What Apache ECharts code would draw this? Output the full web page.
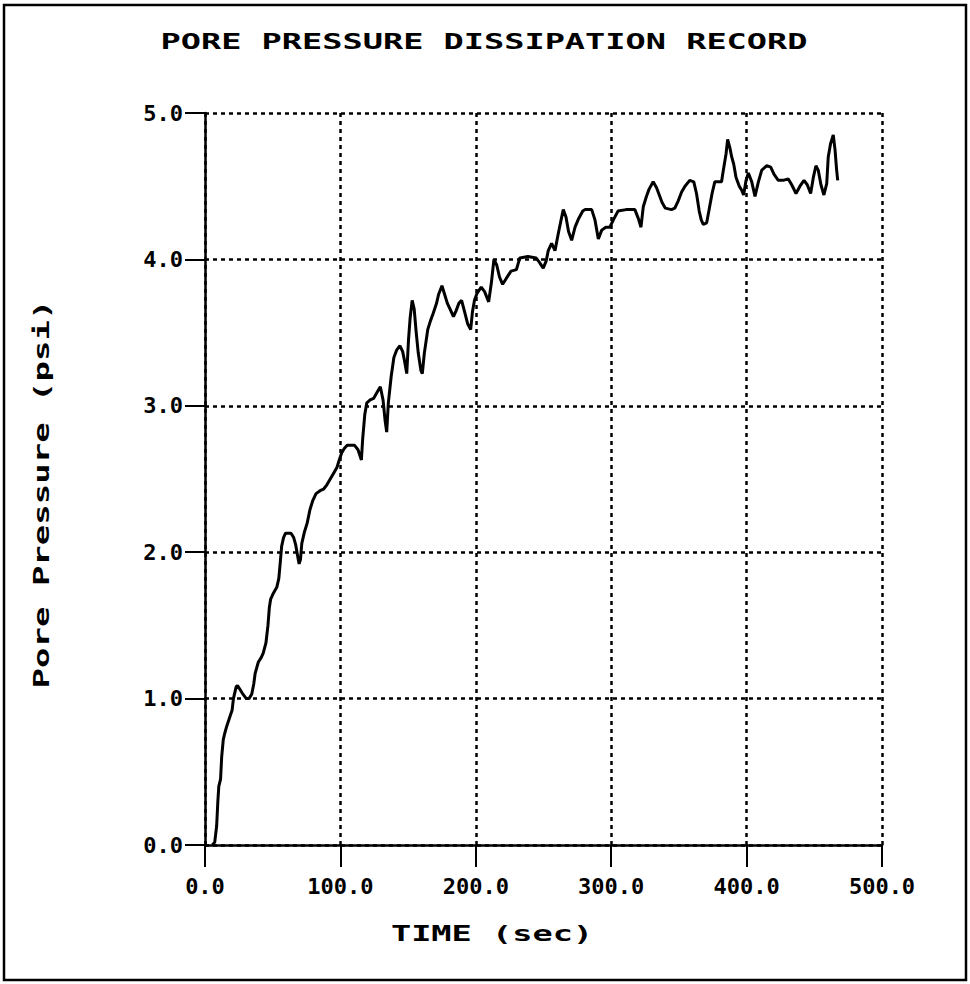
<!DOCTYPE html>
<html>
<head>
<meta charset="utf-8">
<script src="https://cdn.jsdelivr.net/npm/echarts@6/dist/echarts.min.js"></script>
<style>
html,body{margin:0;padding:0;background:#fff;}
#chart{width:970px;height:984px;}
</style>
</head>
<body>
<div id="chart"></div>
<script>
const titleText = 'PORE PRESSURE DISSIPATION RECORD';
const xAxisName = 'TIME (sec)';
const yAxisName = 'Pore Pressure (psi)';
const xTicks = [0, 100, 200, 300, 400, 500];
const yTicks = [0, 1, 2, 3, 4, 5];

const timeSec = [
  5.5, 7.2, 8.6, 9.5, 10.2, 11.5, 12.3, 13.5, 14.5, 16.0, 18.5, 20.0, 21.0, 23.0, 24.0, 26.0, 28.0, 30.5, 32.5, 34.5,
  36.0, 37.0, 39.4, 41.5, 43.0, 45.0, 46.5, 47.5, 48.5, 50.5, 53.0, 54.5, 55.5, 56.6, 58.0, 59.5, 63.5, 65.5, 67.0, 68.3,
  69.5, 70.5, 71.5, 73.5, 75.5, 77.5, 79.5, 82.0, 85.0, 87.5, 90.0, 92.5, 95.0, 97.5, 99.5, 101.0, 103.0, 105.0, 110.5, 113.0,
  115.5, 116.5, 118.0, 119.5, 122.0, 124.5, 127.0, 129.5, 131.5, 133.0, 134.2, 135.4, 137.5, 139.5, 141.5, 144.0, 146.0, 147.5, 149.0, 150.3,
  151.5, 153.0, 154.5, 156.0, 157.5, 159.5, 160.5, 162.0, 164.5, 166.5, 168.5, 171.0, 172.5, 175.0, 177.0, 179.0, 181.0, 183.5, 185.5, 187.5,
  189.5, 191.5, 194.0, 196.2, 197.5, 199.0, 201.0, 204.0, 206.5, 209.5, 211.5, 213.4, 215.5, 217.5, 219.8, 222.5, 226.0, 230.0, 232.5, 238.5,
  244.5, 247.0, 249.8, 252.0, 253.5, 256.0, 258.5, 261.0, 263.0, 264.6, 266.6, 268.5, 270.8, 273.3, 276.0, 279.0, 280.6, 285.6, 288.0, 290.5,
  293.0, 296.0, 299.0, 301.6, 305.0, 311.0, 317.5, 320.0, 322.0, 323.7, 326.0, 328.0, 331.0, 333.5, 335.5, 337.5, 340.0, 344.5, 347.0, 349.5,
  352.0, 354.5, 358.0, 361.0, 363.0, 365.0, 366.5, 368.0, 370.5, 372.5, 374.5, 376.5, 381.5, 383.0, 384.8, 386.0, 387.7, 389.0, 390.5, 392.2,
  394.6, 396.5, 397.8, 399.6, 401.3, 403.8, 406.2, 408.7, 411.2, 414.9, 417.8, 420.3, 423.4, 427.0, 430.8, 433.3, 436.5, 439.4, 442.4, 444.8,
  447.3, 449.3, 451.2, 452.9, 454.9, 457.1, 459.2, 460.3, 462.0, 464.0, 465.3, 466.5, 467.3
];
const porePressure = [
  0.00, 0.02, 0.13, 0.30, 0.40, 0.45, 0.60, 0.72, 0.76, 0.81, 0.88, 0.92, 1.00, 1.08, 1.09, 1.06, 1.03, 1.00, 1.00, 1.03,
  1.10, 1.17, 1.25, 1.28, 1.31, 1.38, 1.50, 1.62, 1.68, 1.72, 1.76, 1.82, 1.92, 2.04, 2.10, 2.13, 2.13, 2.10, 2.05, 1.98,
  1.92, 1.95, 2.06, 2.14, 2.20, 2.29, 2.35, 2.40, 2.42, 2.43, 2.46, 2.50, 2.54, 2.58, 2.64, 2.68, 2.71, 2.73, 2.73, 2.70,
  2.63, 2.78, 2.94, 3.02, 3.04, 3.05, 3.09, 3.13, 3.04, 2.90, 2.82, 3.02, 3.20, 3.33, 3.38, 3.41, 3.37, 3.30, 3.22, 3.45,
  3.60, 3.72, 3.66, 3.50, 3.36, 3.24, 3.22, 3.36, 3.52, 3.58, 3.63, 3.70, 3.76, 3.82, 3.76, 3.70, 3.66, 3.61, 3.65, 3.70,
  3.72, 3.65, 3.56, 3.52, 3.64, 3.72, 3.77, 3.81, 3.78, 3.71, 3.84, 4.00, 3.96, 3.88, 3.83, 3.87, 3.92, 3.93, 4.01, 4.02,
  4.01, 3.98, 3.94, 3.99, 4.06, 4.11, 4.06, 4.18, 4.27, 4.34, 4.29, 4.19, 4.13, 4.22, 4.28, 4.33, 4.34, 4.34, 4.27, 4.14,
  4.20, 4.22, 4.22, 4.27, 4.33, 4.34, 4.34, 4.28, 4.22, 4.36, 4.43, 4.48, 4.53, 4.49, 4.44, 4.39, 4.35, 4.34, 4.35, 4.40,
  4.46, 4.50, 4.54, 4.53, 4.45, 4.33, 4.27, 4.24, 4.25, 4.35, 4.45, 4.53, 4.53, 4.62, 4.72, 4.82, 4.76, 4.70, 4.65, 4.56,
  4.50, 4.47, 4.44, 4.54, 4.59, 4.53, 4.43, 4.53, 4.61, 4.64, 4.63, 4.58, 4.54, 4.54, 4.55, 4.51, 4.45, 4.50, 4.54, 4.51,
  4.45, 4.56, 4.64, 4.61, 4.51, 4.44, 4.52, 4.70, 4.79, 4.85, 4.75, 4.61, 4.54
];

const seriesData = timeSec.map((t, i) => [t, porePressure[i]]);
const MONO = '"DejaVu Sans Mono", "Liberation Mono", monospace';

const chart = echarts.init(document.getElementById('chart'), null, {renderer: 'svg'});
chart.setOption({
  backgroundColor: '#ffffff',
  animation: false,
  grid: {left: 205, top: 113, width: 677, height: 732, containLabel: false},
  xAxis: {
    type: 'value',
    min: xTicks[0],
    max: xTicks[xTicks.length - 1],
    interval: 100,
    axisLine: {show: true, lineStyle: {color: '#000', width: 2.5}},
    axisTick: {show: true, length: 22, lineStyle: {color: '#000', width: 2}},
    axisLabel: {
      margin: 30, color: '#000', fontFamily: MONO, fontWeight: 'bold', fontSize: 22,
      formatter: v => Number(v).toFixed(1)
    },
    splitLine: {show: true, lineStyle: {color: '#000', width: 2.5, type: [4, 4]}}
  },
  yAxis: {
    type: 'value',
    min: yTicks[0],
    max: yTicks[yTicks.length - 1],
    interval: 1,
    axisLine: {show: true, lineStyle: {color: '#000', width: 2.5}},
    axisTick: {show: true, length: 20, lineStyle: {color: '#000', width: 2}},
    axisLabel: {
      margin: 22, color: '#000', fontFamily: MONO, fontWeight: 'bold', fontSize: 22,
      formatter: v => Number(v).toFixed(1)
    },
    splitLine: {show: true, lineStyle: {color: '#000', width: 2.5, type: [4, 4]}}
  },
  graphic: [
    {type: 'rect', shape: {x: 4, y: 5, width: 962, height: 975}, style: {fill: 'none', stroke: '#000', lineWidth: 2.5}, silent: true},
    {type: 'text', x: 484, y: 42, scaleX: 1.6,
     style: {text: titleText, font: 'bold 21px ' + MONO, fill: '#000', textAlign: 'center', textVerticalAlign: 'middle'}},
    {type: 'text', x: 492, y: 934, scaleX: 1.6,
     style: {text: xAxisName, font: 'bold 21px ' + MONO, fill: '#000', textAlign: 'center', textVerticalAlign: 'middle'}},
    {type: 'text', x: 42, y: 494, rotation: Math.PI / 2, scaleX: 1.62,
     style: {text: yAxisName, font: 'bold 21px ' + MONO, fill: '#000', textAlign: 'center', textVerticalAlign: 'middle'}}
  ],
  series: [{
    type: 'line',
    data: seriesData,
    showSymbol: false,
    symbol: 'none',
    smooth: false,
    lineStyle: {color: '#000', width: 3},
    z: 5
  }]
});
</script>
</body>
</html>
